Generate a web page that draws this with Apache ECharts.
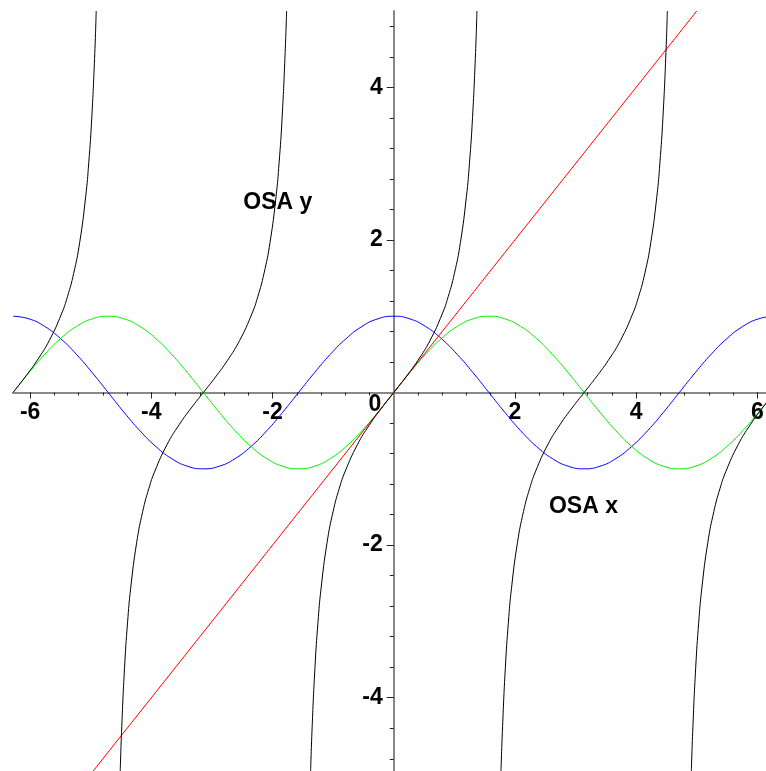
<!DOCTYPE html>
<html>
<head>
<meta charset="utf-8">
<script src="https://cdn.jsdelivr.net/npm/echarts@6/dist/echarts.min.js"></script>
<style>
  html, body { margin: 0; padding: 0; background: #fff; }
  #chart { width: 766px; height: 771px; }
</style>
</head>
<body>
<div id="chart"></div>
<script>
// Shared abscissae for the sine and cosine curves (steps of pi/12 over [-2pi, 2pi])
const waveX = [-6.283,-6.021,-5.760,-5.498,-5.236,-4.974,-4.712,-4.451,-4.189,-3.927,-3.665,-3.403,-3.142,
  -2.880,-2.618,-2.356,-2.094,-1.833,-1.571,-1.309,-1.047,-0.785,-0.524,-0.262,0,
  0.262,0.524,0.785,1.047,1.309,1.571,1.833,2.094,2.356,2.618,2.880,3.142,3.403,3.665,3.927,
  4.189,4.451,4.712,4.974,5.236,5.498,5.760,6.021,6.283];
const sinY = [0,0.259,0.5,0.707,0.866,0.966,1,0.966,0.866,0.707,0.5,0.259,0,-0.259,-0.5,-0.707,-0.866,-0.966,-1,
  -0.966,-0.866,-0.707,-0.5,-0.259,0,0.259,0.5,0.707,0.866,0.966,1,0.966,0.866,0.707,0.5,0.259,0,
  -0.259,-0.5,-0.707,-0.866,-0.966,-1,-0.966,-0.866,-0.707,-0.5,-0.259,0];
const cosY = [1,0.966,0.866,0.707,0.5,0.259,0,-0.259,-0.5,-0.707,-0.866,-0.966,-1,-0.966,-0.866,-0.707,-0.5,
  -0.259,0,0.259,0.5,0.707,0.866,0.966,1,0.966,0.866,0.707,0.5,0.259,0,-0.259,-0.5,-0.707,-0.866,
  -0.966,-1,-0.966,-0.866,-0.707,-0.5,-0.259,0,0.259,0.5,0.707,0.866,0.966,1];

// Identity line y = x
const lineX = [-5, 5];
const lineY = [-5, 5];

// Tangent branches, clipped to |y| <= 5
const tanX1 = [-6.283,-6.083,-5.883,-5.683,-5.483,-5.383,-5.283,-5.183,-5.083,-5.033,-4.983,-4.933,-4.910];
const tanY1 = [0,0.203,0.423,0.684,1.030,1.260,1.557,1.965,2.572,3.010,3.602,4.455,5];
const tanX2 = [-4.515,-4.492,-4.442,-4.392,-4.342,-4.242,-4.142,-4.042,-3.942,-3.742,-3.542,-3.342,-3.142,
  -2.942,-2.742,-2.542,-2.342,-2.242,-2.142,-2.042,-1.942,-1.892,-1.842,-1.792,-1.768];
const tanX3 = [-1.373,-1.35,-1.3,-1.25,-1.2,-1.1,-1.0,-0.9,-0.8,-0.6,-0.4,-0.2,0,
  0.2,0.4,0.6,0.8,0.9,1.0,1.1,1.2,1.25,1.3,1.35,1.373];
const tanX4 = [1.768,1.792,1.842,1.892,1.942,2.042,2.142,2.242,2.342,2.542,2.742,2.942,3.142,
  3.342,3.542,3.742,3.942,4.042,4.142,4.242,4.342,4.392,4.442,4.492,4.515];
const tanYFull = [-5,-4.455,-3.602,-3.010,-2.572,-1.965,-1.557,-1.260,-1.030,-0.684,-0.423,-0.203,0,
  0.203,0.423,0.684,1.030,1.260,1.557,1.965,2.572,3.010,3.602,4.455,5];
const tanX5 = [4.910,4.933,4.983,5.033,5.083,5.183,5.283,5.383,5.483,5.683,5.883,6.083,6.283];
const tanY5 = [-5,-4.455,-3.602,-3.010,-2.572,-1.965,-1.557,-1.260,-1.030,-0.684,-0.423,-0.203,0];

// Tick positions
const xMajorTicks = [-6,-4,-2,2,4,6];
const xMinorTicks = [-6,-5.6,-5.2,-4.8,-4.4,-4,-3.6,-3.2,-2.8,-2.4,-2,-1.6,-1.2,-0.8,-0.4,
  0.4,0.8,1.2,1.6,2,2.4,2.8,3.2,3.6,4,4.4,4.8,5.2,5.6,6];
const yMajorTicks = [-4,-2,2,4];
const yMinorTicks = [-4.8,-4.4,-4,-3.6,-3.2,-2.8,-2.4,-2,-1.6,-1.2,-0.8,-0.4,
  0.4,0.8,1.2,1.6,2,2.4,2.8,3.2,3.6,4,4.4,4.8];

// Text annotations placed in data coordinates
const notes = [
  [-1.914, 2.485, 'OSA y'],
  [3.13, -1.494, 'OSA x'],
  [-0.31, -0.16, '0']
];

const pairs = (xs, ys) => xs.map((x, i) => [x, ys[i]]);

const FONT = 'Liberation Sans';
const textStyle = { fontFamily: FONT, fontWeight: 'bold', fontSize: 23, color: '#000' };
const axisLineStyle = { color: '#888', width: 2 };

const X_MIN = -6.283, X_MAX = 6.143, Y_MIN = -4.96, Y_MAX = 5;
const W = 766, H = 771;
const GRID = { left: 13, right: 0, top: 11, bottom: 0 };

// Distance of the zero lines from the grid's left and bottom edges, so that the
// labelled tick axes can be shifted onto the origin.
const plotW = W - GRID.left - GRID.right;
const plotH = H - GRID.top - GRID.bottom;
const zeroFromLeft = (0 - X_MIN) / (X_MAX - X_MIN) * plotW;
const zeroFromBottom = (0 - Y_MIN) / (Y_MAX - Y_MIN) * plotH;

// Minor-tick axes sit on the origin through onZero; the labelled axes carry the
// longer ticks and are moved onto the origin by an offset.
const xAxes = [
  {
    type: 'value', min: X_MIN, max: X_MAX, position: 'bottom',
    axisLine: { onZero: true, lineStyle: axisLineStyle },
    axisTick: { customValues: xMinorTicks, length: 3, lineStyle: { color: '#222', width: 1 } },
    axisLabel: { show: false }, splitLine: { show: false }
  },
  {
    type: 'value', min: X_MIN, max: X_MAX, position: 'bottom', offset: -zeroFromBottom,
    axisLine: { show: false, onZero: false },
    axisTick: { customValues: xMajorTicks, length: 6, lineStyle: { color: '#222', width: 1 } },
    axisLabel: Object.assign({ customValues: xMajorTicks, margin: 9 }, textStyle),
    splitLine: { show: false }
  }
];
const yAxes = [
  {
    type: 'value', min: Y_MIN, max: Y_MAX, position: 'left',
    axisLine: { onZero: true, lineStyle: axisLineStyle },
    axisTick: { customValues: yMinorTicks, length: 4, lineStyle: { color: '#222', width: 1 } },
    axisLabel: { show: false }, splitLine: { show: false }
  },
  {
    type: 'value', min: Y_MIN, max: Y_MAX, position: 'left', offset: -zeroFromLeft,
    axisLine: { show: false, onZero: false },
    axisTick: { customValues: yMajorTicks, length: 7, lineStyle: { color: '#222', width: 1 } },
    axisLabel: Object.assign({ customValues: yMajorTicks, margin: 11 }, textStyle),
    splitLine: { show: false }
  }
];

function curve(data, color, axisIdx) {
  return {
    type: 'line', data: data, showSymbol: false, symbol: 'none',
    xAxisIndex: axisIdx || 0, yAxisIndex: axisIdx || 0,
    smooth: 0.5, clip: true,
    lineStyle: { color: color, width: 1 }, silent: true
  };
}

const chart = echarts.init(document.getElementById('chart'), null, { renderer: 'canvas' });
chart.setOption({
  animation: false,
  backgroundColor: '#fff',
  grid: Object.assign({ containLabel: false, outerBoundsMode: 'none' }, GRID),
  xAxis: xAxes,
  yAxis: yAxes,
  series: [
    curve(pairs(waveX, cosY), '#0000ff'),
    curve(pairs(waveX, sinY), '#00ee00'),
    Object.assign(curve(pairs(lineX, lineY), '#ff0000', 1), { smooth: false }),
    curve(pairs(tanX1, tanY1), '#000'),
    curve(pairs(tanX2, tanYFull), '#000'),
    curve(pairs(tanX3, tanYFull), '#000'),
    curve(pairs(tanX4, tanYFull), '#000'),
    curve(pairs(tanX5, tanY5), '#000'),
    {
      type: 'scatter', data: notes, symbolSize: 0, xAxisIndex: 1, yAxisIndex: 1,
      itemStyle: { color: '#000', opacity: 1 }, silent: true,
      label: Object.assign({
        show: true, position: [0, 0], align: 'center', verticalAlign: 'middle',
        textBorderWidth: 0, opacity: 1, formatter: p => p.value[2]
      }, textStyle)
    }
  ]
});
</script>
</body>
</html>
